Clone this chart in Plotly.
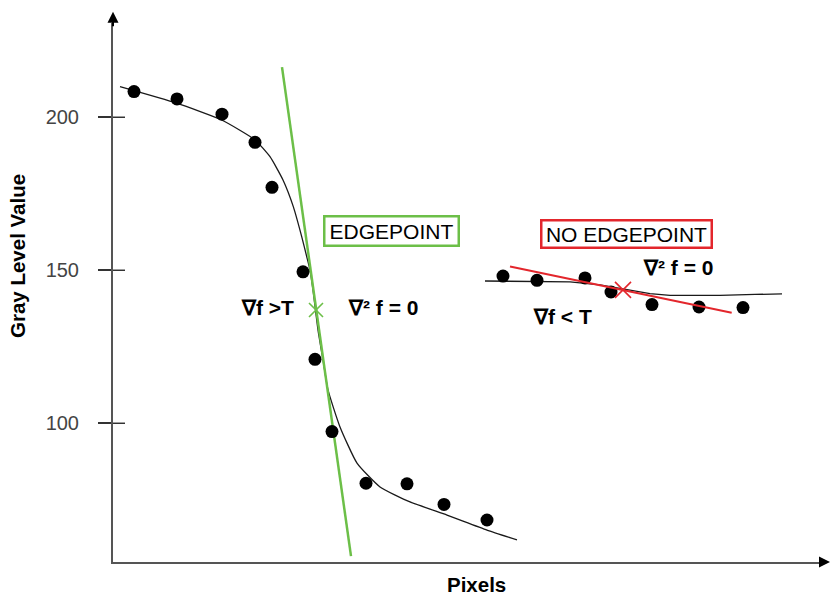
import plotly.graph_objects as go

# Measured gray levels along a scan line (x in pixel positions)
x_left = [2.1, 6.4, 10.9, 14.2, 15.9, 19.0, 20.2, 21.9, 25.3, 29.4, 33.1, 37.4]
y_left = [208.4, 206.0, 201.0, 191.8, 177.1, 149.5, 120.9, 97.3, 80.4, 80.2, 73.5, 68.4]
x_right = [39.0, 42.4, 47.2, 49.8, 53.9, 58.6, 63.0]
y_right = [148.1, 146.7, 147.5, 142.9, 138.8, 138.0, 137.8]

# Fitted profile through the strong edge
fit_left_x = [0.7, 6.37, 10.87, 14.2, 15.7, 17.0, 18.03, 18.87, 19.37, 19.7, 20.0,
              20.5, 21.0, 21.5, 22.7, 24.4, 26.7, 29.7, 33.4, 37.4, 40.4]
fit_left_y = [210.0, 204.6, 199.1, 192.6, 187.1, 179.5, 170.8, 161.0, 154.5, 150.1, 143.6,
              130.5, 120.7, 110.9, 98.8, 87.0, 79.2, 74.3, 70.0, 65.1, 61.9]

# Fitted profile through the weak transition
fit_right_x = [37.2, 45.7, 48.7, 51.2, 53.7, 55.7, 60.7, 64.2, 66.9]
fit_right_y = [146.5, 146.2, 145.2, 143.7, 142.4, 141.8, 141.8, 142.1, 142.3]

# Tangent lines at the zero crossings of the second derivative
tangent_strong_x = [16.9, 23.8]
tangent_strong_y = [216.4, 56.6]
tangent_weak_x = [39.7, 61.87]
tangent_weak_y = [151.2, 136.1]
crossing_strong = (20.3, 137.0)
crossing_weak = (51.0, 143.6)

y_ticks = [100, 150, 200]
x_range = [0, 71.3]
y_range = [54.67, 230.8]

GREEN = "#6cbf48"
RED = "#e3262c"
AXIS = "#555555"
FONT = "Liberation Sans, Arial, sans-serif"

fig = go.Figure()

fig.add_trace(go.Scatter(x=fit_left_x, y=fit_left_y, mode="lines",
                         line=dict(color="#1a1a1a", width=1.3, shape="spline", smoothing=0.5)))
fig.add_trace(go.Scatter(x=tangent_strong_x, y=tangent_strong_y, mode="lines",
                         line=dict(color=GREEN, width=2.5)))
fig.add_trace(go.Scatter(x=fit_right_x, y=fit_right_y, mode="lines",
                         line=dict(color="#1a1a1a", width=1.3)))
fig.add_trace(go.Scatter(x=x_left, y=y_left, mode="markers",
                         marker=dict(color="black", size=13)))
fig.add_trace(go.Scatter(x=x_right, y=y_right, mode="markers",
                         marker=dict(color="black", size=13)))
fig.add_trace(go.Scatter(x=tangent_weak_x, y=tangent_weak_y, mode="lines",
                         line=dict(color=RED, width=2)))
fig.add_trace(go.Scatter(x=[crossing_strong[0]], y=[crossing_strong[1]], mode="markers",
                         marker=dict(symbol="x-thin", size=14, line=dict(color=GREEN, width=1.6))))
fig.add_trace(go.Scatter(x=[crossing_weak[0]], y=[crossing_weak[1]], mode="markers",
                         marker=dict(symbol="x-thin", size=16, line=dict(color=RED, width=1.6))))

label_font = dict(family=FONT, size=21, color="black")
bold_font = dict(family=FONT, size=21, color="black", weight="bold")
title_font = dict(family=FONT, size=20.5, color="black", weight="bold")

annotations = [
    dict(x=27.8, y=162.7, text="EDGEPOINT", font=label_font, bordercolor=GREEN,
         borderwidth=2.5, borderpad=2, width=128, height=23),
    dict(x=51.3, y=161.9, text="NO EDGEPOINT", font=label_font, bordercolor=RED,
         borderwidth=2.5, borderpad=2, width=164, height=21),
    dict(x=15.4, y=137.7, text="∇f >T", font=bold_font),
    dict(x=27.0, y=137.7, text="∇² f = 0", font=bold_font),
    dict(x=56.5, y=150.8, text="∇² f = 0", font=bold_font),
    dict(x=44.9, y=134.8, text="∇f < T", font=bold_font),
]
for a in annotations:
    fig.add_annotation(xref="x", yref="y", showarrow=False,
                       xanchor="center", yanchor="middle", **a)

# Axis titles
fig.add_annotation(xref="paper", yref="paper", x=-0.133, y=0.568, text="Gray Level Value",
                   textangle=-90, showarrow=False, font=title_font,
                   xanchor="center", yanchor="middle")
fig.add_annotation(xref="paper", yref="paper", x=0.5105, y=-0.042, text="Pixels",
                   showarrow=False, font=title_font, xanchor="center", yanchor="middle")

# Arrow heads at the ends of both axes
fig.add_annotation(xref="paper", yref="paper", x=0, y=1.021, ax=0, ay=16, text="",
                   showarrow=True, arrowhead=2, arrowsize=1.1, arrowwidth=2, arrowcolor="black")
fig.add_annotation(xref="paper", yref="paper", x=1.014, y=0, ax=-16, ay=0, text="",
                   showarrow=True, arrowhead=2, arrowsize=1.1, arrowwidth=2, arrowcolor="black")

# Inner half of the y ticks, so each tick crosses the axis line
for v in y_ticks:
    fig.add_shape(type="line", xref="x", yref="y", x0=x_range[0], x1=x_range[0] + 1.2,
                  y0=v, y1=v, line=dict(color="#333", width=1.5), layer="above")

fig.update_layout(
    width=831, height=596,
    margin=dict(l=113, r=5, t=23, b=34),
    plot_bgcolor="white", paper_bgcolor="white",
    showlegend=False,
    font=dict(family=FONT),
    xaxis=dict(range=x_range, showline=True, linecolor=AXIS, linewidth=2,
               showticklabels=False, ticks="", showgrid=False, zeroline=False),
    yaxis=dict(range=y_range, tickvals=y_ticks, ticks="outside", ticklen=13, tickwidth=1.5,
               tickcolor="#333", tickfont=dict(family=FONT, size=20, color="#444"),
               ticklabelstandoff=15, showline=True, linecolor=AXIS, linewidth=2,
               showgrid=False, zeroline=False),
)

fig.write_html("out.html")
